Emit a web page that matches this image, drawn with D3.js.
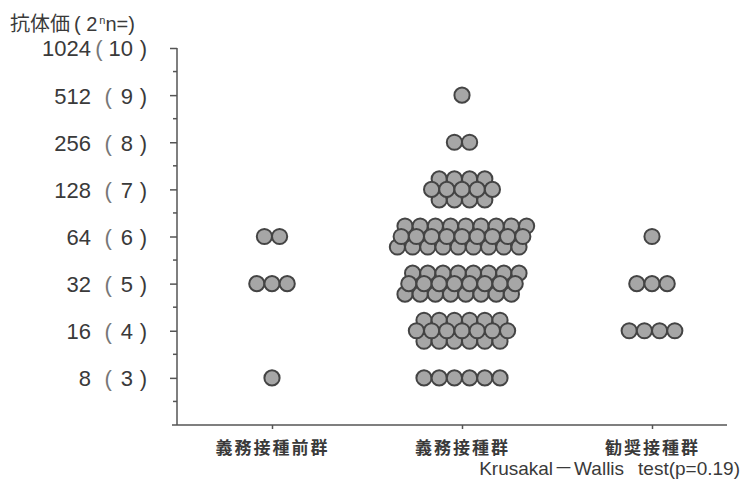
<!DOCTYPE html>
<html>
  <head>
    <meta charset="utf-8">
    <title>抗体価</title>
    <script src="https://d3js.org/d3.v7.min.js"></script>
    <style>
      body { margin: 0; background: #fff; }
      svg { display: block; }
      .num { font-family: "Liberation Sans", Arial, sans-serif; fill: #3a3a3a; }
      .jp { font-family: "Noto Sans CJK JP", sans-serif; fill: #3a3a3a; }
    </style>
  </head>
  <body>
    <div id="chart"></div>
    <script>
      // data
      const groups = ["義務接種前群", "義務接種群", "勧奨接種群"];
      const levels = [3, 4, 5, 6, 7, 8, 9];          // log2 titre, rows of dots
      const countsPre = [1, 0, 3, 2, 0, 0, 0];
      const countsMandatory = [6, 19, 24, 27, 13, 2, 1];
      const countsRecommended = [0, 4, 3, 1, 0, 0, 0];
      const tickExponents = [3, 4, 5, 6, 7, 8, 9, 10];
      const tickTitres = [8, 16, 32, 64, 128, 256, 512, 1024];
      const notePieces = ["Krusakal", "－", "Wallis", "test(p=0.19)"];

      const width = 746, height = 490;
      const svg = d3.select("#chart").append("svg")
        .attr("width", width)
        .attr("height", height);

      // scales
      const y = d3.scaleLinear().domain([2, 10]).range([425, 48]);
      const x = d3.scalePoint().domain(groups).range([177, 747]).padding(0.5);

      // title
      const title = svg.append("text")
        .attr("x", 10)
        .attr("y", 31)
        .attr("fill", "#3a3a3a");
      title.append("tspan").style("font-family", "'Noto Sans CJK JP'").attr("font-size", 20).text("抗体価");
      title.append("tspan").style("font-family", "'Liberation Sans', Arial").attr("font-size", 20)
        .attr("dx", 4).text("( 2");
      title.append("tspan").style("font-family", "'Liberation Sans', Arial")
        .attr("font-size", 11).attr("dx", 2).attr("dy", -7).text("n");
      title.append("tspan").style("font-family", "'Liberation Sans', Arial").attr("font-size", 20)
        .attr("dy", 7).text("n=)");

      // y axis
      const yAxis = svg.append("g")
        .attr("transform", "translate(177,0)")
        .call(d3.axisLeft(y)
          .tickValues(tickExponents)
          .tickSize(7)
          .tickSizeOuter(0)
          .tickPadding(79)
          .tickFormat((d, i) => tickTitres[i]));
      yAxis.select(".domain")
        .attr("d", "M0," + y(10) + "V" + y(2))
        .attr("stroke", "#555")
        .attr("stroke-width", 1.5);
      yAxis.selectAll(".tick line").attr("stroke", "#555").attr("stroke-width", 1.5);
      yAxis.selectAll(".tick text")
        .attr("class", "num")
        .attr("font-size", 22)
        .attr("dy", "0.36em");
      // bracketed exponent
      const expText = yAxis.selectAll(".tick").append("text")
        .attr("class", "num")
        .attr("font-size", 22)
        .attr("text-anchor", "end")
        .attr("x", -44)
        .attr("dy", "0.36em");
      expText.append("tspan").attr("fill", "#777").text("(");
      expText.append("tspan").attr("dx", d => d < 10 ? 9 : 6).text(d => d);
      yAxis.selectAll(".tick").append("text")
        .attr("class", "num")
        .attr("font-size", 22)
        .attr("text-anchor", "end")
        .attr("x", -30)
        .attr("dy", "0.36em")
        .attr("fill", "#777")
        .text(")");
      // minor ticks
      svg.append("g")
        .attr("transform", "translate(177,0)")
        .selectAll("line")
        .data(d3.range(2.5, 10, 1))
        .join("line")
          .attr("x1", -4)
          .attr("x2", 0)
          .attr("y1", d => y(d))
          .attr("y2", d => y(d))
          .attr("stroke", "#555")
          .attr("stroke-width", 1.5);

      // x axis
      const xAxis = svg.append("g")
        .attr("transform", "translate(0," + y(2) + ")")
        .call(d3.axisBottom(x).tickSize(4).tickSizeOuter(0).tickPadding(13));
      xAxis.select(".domain")
        .attr("d", "M172,0H727")
        .attr("stroke", "#555")
        .attr("stroke-width", 1.5);
      xAxis.selectAll(".tick line").attr("stroke", "#555").attr("stroke-width", 1.5);
      xAxis.selectAll(".tick text")
        .attr("class", "jp")
        .attr("font-size", 17)
        .attr("font-weight", "bold")
        .attr("letter-spacing", 2)
        .attr("fill", "#444");

      // note
      const noteText = svg.append("text")
        .attr("class", "num")
        .attr("x", 740)
        .attr("y", 475)
        .attr("text-anchor", "end")
        .attr("font-size", 19);
      noteText.append("tspan").text(notePieces[0]);
      noteText.append("tspan").style("font-family", "'Noto Sans CJK JP'").attr("dx", 1).text(notePieces[1]);
      noteText.append("tspan").attr("dx", 1).text(notePieces[2]);
      noteText.append("tspan").attr("dx", 14).text(notePieces[3]);

      // dot layout: small counts in one row, larger counts in three staggered rows
      const step = 15.2, rowGap = 10.5;
      function rowsFor(n) {
        if (n <= 6) return [{ dy: 0, k: n }];
        const m = Math.ceil(n / 3);
        const top = Math.ceil((n - m) / 2);
        return [{ dy: -1, k: top, m: m }, { dy: 1, k: n - m - top, m: m }, { dy: 0, k: m, m: m }];
      }
      const dots = [];
      [countsPre, countsMandatory, countsRecommended].forEach((counts, g) => {
        counts.forEach((n, li) => {
          rowsFor(n).forEach(row => {
            const shift = (row.dy !== 0 && row.k === row.m) ? -row.dy * step / 4 : 0;
            for (let i = 0; i < row.k; i++) {
              dots.push({
                cx: x(groups[g]) + (i - (row.k - 1) / 2) * step + shift,
                cy: y(levels[li]) + row.dy * rowGap
              });
            }
          });
        });
      });

      svg.append("g")
        .selectAll("circle")
        .data(dots)
        .join("circle")
          .attr("cx", d => d.cx)
          .attr("cy", d => d.cy)
          .attr("r", 7.6)
          .attr("fill", "#a6a6a6")
          .attr("stroke", "#444")
          .attr("stroke-width", 2);
    </script>
  </body>
</html>
